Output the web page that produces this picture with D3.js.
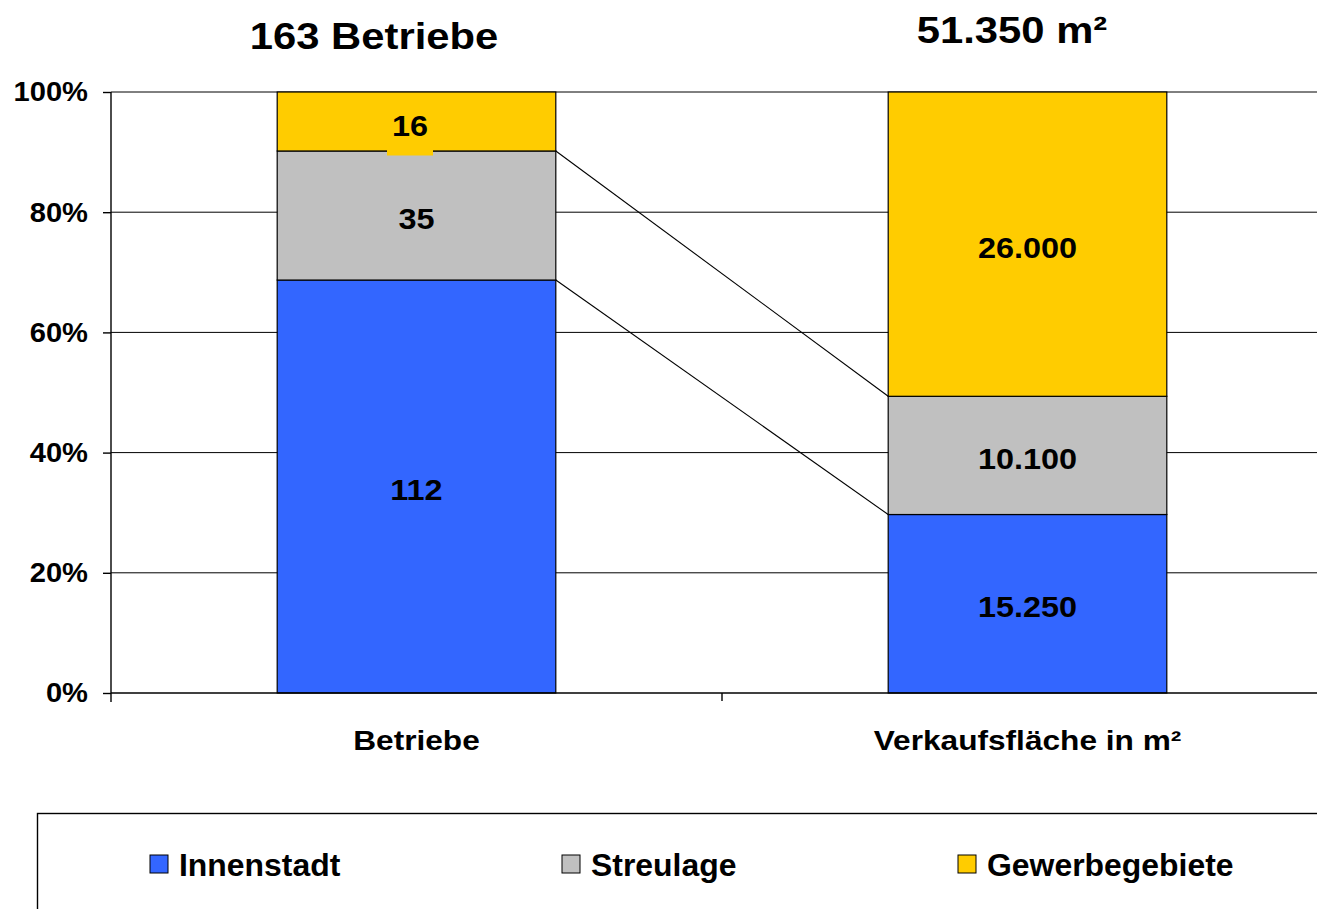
<!DOCTYPE html>
<meta charset="utf-8">
<head>
  <title>Betriebe und Verkaufsfläche</title>
  <script src="https://d3js.org/d3.v7.min.js"></script>
  <style>
    body { margin: 0; background: #fff; font-family: "Liberation Sans", Arial, sans-serif; }
    svg { display: block; }
    .grid line { stroke: #000; stroke-width: 1; }
    .axis path, .axis line { stroke: #000; stroke-width: 1.4; }
    .axis text { font-size: 28px; font-weight: bold; fill: #000; font-family: "Liberation Sans", Arial, sans-serif; }
    .seg { stroke: #000; stroke-width: 1.2; }
    .lbl { font-size: 30px; font-weight: bold; fill: #000; }
  </style>
</head>
<body>
<script>
  // data
  var categories = ["Betriebe", "Verkaufsfläche in m²"];
  var titles = ["163 Betriebe", "51.350 m²"];
  var seriesNames = ["Innenstadt", "Streulage", "Gewerbegebiete"];
  var colors = ["#3366FF", "#C0C0C0", "#FFCC00"];
  var innenstadt = [112, 15250];
  var streulage = [35, 10100];
  var gewerbe = [16, 26000];
  var valueLabels = [["112", "15.250"], ["35", "10.100"], ["16", "26.000"]];
  var yTicks = [0, 0.2, 0.4, 0.6, 0.8, 1];

  var width = 1317, height = 909;
  var plotLeft = 111, plotTop = 92, plotBottom = 693, plotRight = 1333;

  var svg = d3.select("body").append("svg")
    .attr("width", width)
    .attr("height", height);

  var x = d3.scaleBand().domain(categories).range([plotLeft, plotRight]).paddingInner(0).paddingOuter(0);
  var y = d3.scaleLinear().domain([0, 1]).range([plotBottom, plotTop]);
  var barW = x.bandwidth() * 0.456;

  // widen glyphs a bit, the original text is stretched horizontally
  function stretch(sel, s) {
    sel.each(function() {
      var t = d3.select(this);
      var tx = +t.attr("x") || 0, ty = +t.attr("y") || 0;
      t.attr("x", 0).attr("y", 0)
        .attr("transform", "translate(" + tx + "," + ty + ") scale(" + s + ",1)");
    });
  }

  // shares per category
  var rows = categories.map(function(c, i) {
    var vals = [innenstadt[i], streulage[i], gewerbe[i]];
    var tot = d3.sum(vals);
    var acc = 0;
    return vals.map(function(v, k) {
      var s = { cat: c, k: k, y0: acc / tot, y1: (acc + v) / tot, label: valueLabels[k][i] };
      acc += v;
      return s;
    });
  });

  // gridlines
  svg.append("g").attr("class", "grid")
    .selectAll("line").data(yTicks.slice(1)).enter().append("line")
    .attr("x1", plotLeft).attr("x2", width)
    .attr("y1", function(d) { return y(d); }).attr("y2", function(d) { return y(d); });

  // connector lines between bars
  var cx0 = x(categories[0]) + (x.bandwidth() + barW) / 2;
  var cx1 = x(categories[1]) + (x.bandwidth() - barW) / 2;
  svg.append("g").selectAll("line").data([0, 1]).enter().append("line")
    .attr("x1", cx0).attr("x2", cx1)
    .attr("y1", function(k) { return y(rows[0][k].y1); })
    .attr("y2", function(k) { return y(rows[1][k].y1); })
    .attr("stroke", "#000").attr("stroke-width", 1.1);

  // bars
  var segs = rows[0].concat(rows[1]);
  svg.append("g").selectAll("rect").data(segs).enter().append("rect")
    .attr("class", "seg")
    .attr("x", function(d) { return x(d.cat) + (x.bandwidth() - barW) / 2; })
    .attr("y", function(d) { return y(d.y1); })
    .attr("width", barW)
    .attr("height", function(d) { return y(d.y0) - y(d.y1); })
    .attr("fill", function(d) { return colors[d.k]; });

  // value labels
  var lg = svg.append("g");
  segs.forEach(function(d) {
    var cx = x(d.cat) + x.bandwidth() / 2;
    var cy = (y(d.y0) + y(d.y1)) / 2;
    if (d.cat === categories[0] && d.k === 2) {
      // small segment: label box hangs over the lower edge
      cx = cx - 6.5;
      cy = cy + 1;
      lg.append("rect").attr("x", cx - 23).attr("y", cy - 24).attr("width", 46).attr("height", 57)
        .attr("fill", colors[2]);
    }
    var t = lg.append("text").attr("class", "lbl")
      .attr("x", cx).attr("y", cy)
      .attr("text-anchor", "middle").attr("dy", "0.45em")
      .text(d.label);
    stretch(t, 1.08);
  });

  // axes
  var ya = svg.append("g").attr("class", "axis")
    .attr("transform", "translate(" + plotLeft + ",0)")
    .call(d3.axisLeft(y).tickValues(yTicks).tickFormat(d3.format(".0%")).tickSize(8).tickPadding(15).tickSizeOuter(0));
  ya.select(".domain").attr("d", "M0," + plotTop + "V" + (plotBottom + 9));
  stretch(ya.selectAll("text"), 1.04);

  var xa = svg.append("g").attr("class", "axis")
    .attr("transform", "translate(0," + plotBottom + ")")
    .call(d3.axisBottom(x).tickSize(0).tickSizeOuter(0).tickPadding(0));
  xa.select(".domain").attr("d", "M" + plotLeft + ",0H" + width);
  xa.selectAll("text").attr("y", 57).attr("dy", null);
  stretch(xa.selectAll("text"), 1.13);

  // category separator on x axis
  svg.append("g").selectAll("line").data([x(categories[1])]).enter().append("line")
    .attr("x1", function(d) { return d; }).attr("x2", function(d) { return d; })
    .attr("y1", plotBottom).attr("y2", plotBottom + 8)
    .attr("stroke", "#000").attr("stroke-width", 1.4);

  // titles above bars
  var tt = svg.append("g").selectAll("text").data(titles).enter().append("text")
    .attr("x", function(d, i) { return i === 0 ? 374 : 1012; })
    .attr("y", function(d, i) { return i === 0 ? 49 : 43; })
    .attr("text-anchor", "middle")
    .style("font-size", "37px").style("font-weight", "bold")
    .text(function(d) { return d; });
  stretch(tt, 1.13);

  // legend
  svg.append("rect")
    .attr("x", 37.5).attr("y", 813.5).attr("width", 1320).attr("height", 120)
    .attr("fill", "none").attr("stroke", "#000").attr("stroke-width", 1.4);
  var legX = [150, 562, 958];
  var leg = svg.append("g").selectAll("g").data(seriesNames).enter().append("g")
    .attr("transform", function(d, i) { return "translate(" + legX[i] + ",855)"; });
  leg.append("rect").attr("width", 18).attr("height", 18)
    .attr("fill", function(d, i) { return colors[i]; })
    .attr("stroke", "#000").attr("stroke-width", 1);
  var lt = leg.append("text").attr("x", 29).attr("y", 21)
    .style("font-size", "31px").style("font-weight", "bold")
    .text(function(d) { return d; });
  stretch(lt, 1.03);
</script>
</body>
</html>
